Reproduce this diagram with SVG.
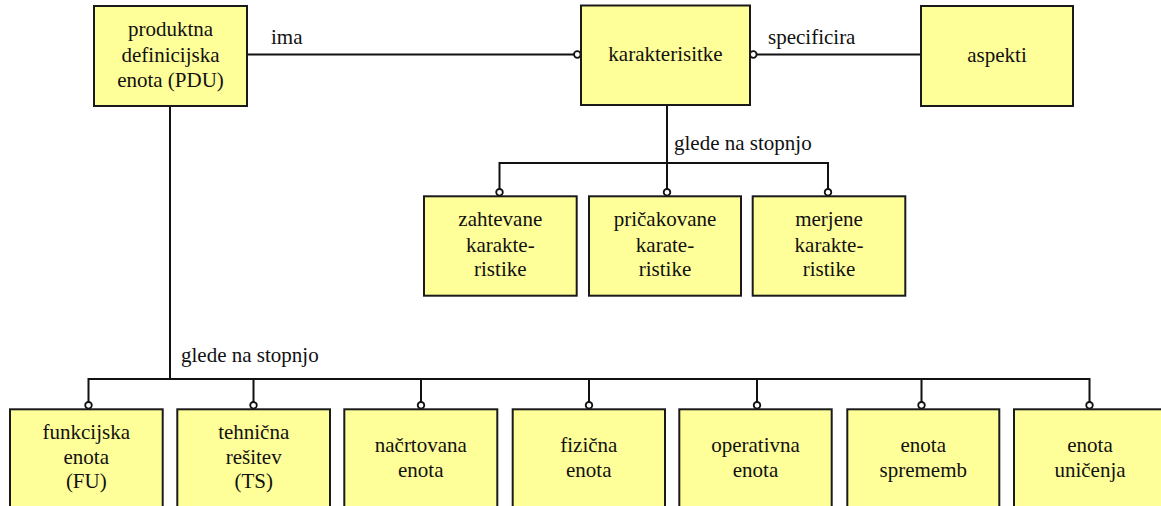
<svg xmlns="http://www.w3.org/2000/svg" width="1161" height="506" viewBox="0 0 1161 506">
<style>
.box{fill:#ffff99;stroke:#1a1a1a;stroke-width:2}
.t{font-family:'Liberation Serif','DejaVu Serif',serif;font-size:21px;fill:#111;text-anchor:middle}
.l{font-family:'Liberation Serif','DejaVu Serif',serif;font-size:21px;fill:#111}
.c{fill:none;stroke:#111;stroke-width:2}
.o{fill:#fff;stroke:#111;stroke-width:1.8}
</style>
<rect width="1161" height="506" fill="#fff"/>
<g id="connectors">
<path class="c" d="M247 54.5H574"/>
<path class="c" d="M756.6 54.5H921"/>
<path class="c" d="M667 105V189"/>
<path class="c" d="M499.5 189V163H828V189"/>
<path class="c" d="M170 106V379"/>
<path class="c" d="M88.5 402V379H1089.5V402"/>
<path class="c" d="M253.5 379V402M421 379V402M589 379V402M757 379V402M921.5 379V402"/>
<circle class="o" cx="577.3" cy="54.5" r="3.3"/>
<circle class="o" cx="753.3" cy="54.5" r="3.3"/>
<circle class="o" cx="499.5" cy="192.3" r="3.3"/>
<circle class="o" cx="667" cy="192.3" r="3.3"/>
<circle class="o" cx="828" cy="192.3" r="3.3"/>
<circle class="o" cx="88.5" cy="405.3" r="3.3"/>
<circle class="o" cx="253.5" cy="405.3" r="3.3"/>
<circle class="o" cx="421" cy="405.3" r="3.3"/>
<circle class="o" cx="589" cy="405.3" r="3.3"/>
<circle class="o" cx="757" cy="405.3" r="3.3"/>
<circle class="o" cx="921.5" cy="405.3" r="3.3"/>
<circle class="o" cx="1089.5" cy="405.3" r="3.3"/>
<text class="l" x="271" y="43.5">ima</text>
<text class="l" x="768" y="43.5">specificira</text>
<text class="l" x="674" y="150">glede na stopnjo</text>
<text class="l" x="181" y="361.5">glede na stopnjo</text>
</g>
<g id="pdu"><rect class="box" x="94" y="6" width="153" height="100"/>
<text class="t" x="170.5" y="36">produktna</text><text class="t" x="170.5" y="61.5">definicijska</text><text class="t" x="170.5" y="86.5">enota (PDU)</text></g>
<g id="karakterisitke"><rect class="box" x="581" y="5.5" width="169" height="99.5"/>
<text class="t" x="665.5" y="61">karakterisitke</text></g>
<g id="aspekti"><rect class="box" x="921" y="6" width="152" height="100"/>
<text class="t" x="997" y="61.5">aspekti</text></g>
<g id="zahtevane"><rect class="box" x="424" y="196.3" width="152.7" height="99.4"/>
<text class="t" x="500.3" y="226">zahtevane</text><text class="t" x="500.3" y="251.5">karakte-</text><text class="t" x="500.3" y="276">ristike</text></g>
<g id="pricakovane"><rect class="box" x="589" y="196.3" width="152" height="99.4"/>
<text class="t" x="665" y="226">pričakovane</text><text class="t" x="665" y="251.5">karate-</text><text class="t" x="665" y="276">ristike</text></g>
<g id="merjene"><rect class="box" x="752.7" y="196.3" width="152.6" height="99.4"/>
<text class="t" x="829" y="226">merjene</text><text class="t" x="829" y="251.5">karakte-</text><text class="t" x="829" y="276">ristike</text></g>
<g id="fu"><rect class="box" x="10" y="409.3" width="152.7" height="100"/>
<text class="t" x="86.3" y="439">funkcijska</text><text class="t" x="86.3" y="463.5">enota</text><text class="t" x="86.3" y="488">(FU)</text></g>
<g id="ts"><rect class="box" x="177.3" y="409.3" width="152.7" height="100"/>
<text class="t" x="253.7" y="439">tehnična</text><text class="t" x="253.7" y="463.5">rešitev</text><text class="t" x="253.7" y="488">(TS)</text></g>
<g id="nacrtovana"><rect class="box" x="344.3" y="409.3" width="153" height="100"/>
<text class="t" x="420.8" y="451.5">načrtovana</text><text class="t" x="420.8" y="477">enota</text></g>
<g id="fizicna"><rect class="box" x="512.7" y="409.3" width="152.3" height="100"/>
<text class="t" x="588.8" y="451.5">fizična</text><text class="t" x="588.8" y="477">enota</text></g>
<g id="operativna"><rect class="box" x="679.3" y="409.3" width="152.4" height="100"/>
<text class="t" x="755.5" y="451.5">operativna</text><text class="t" x="755.5" y="477">enota</text></g>
<g id="sprememb"><rect class="box" x="847.3" y="409.3" width="152" height="100"/>
<text class="t" x="923.3" y="451.5">enota</text><text class="t" x="923.3" y="477">sprememb</text></g>
<g id="unicenja"><rect class="box" x="1014" y="409.3" width="152.5" height="100"/>
<text class="t" x="1090" y="451.5">enota</text><text class="t" x="1090" y="477">uničenja</text></g>
</svg>
